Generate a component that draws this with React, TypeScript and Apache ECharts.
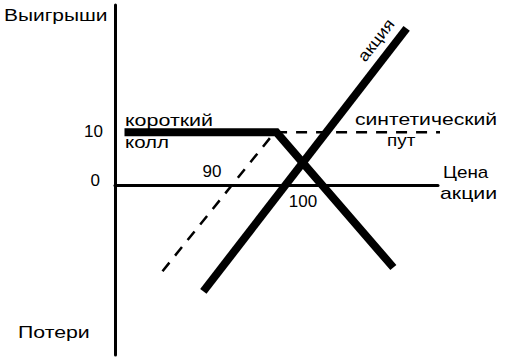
import React, { useEffect, useRef } from "react";
import * as echarts from "echarts";

// Payoff lines: [stock price, profit]
const shortCall: number[][] = [[81, 10], [97, 10], [109.3, -15.5]];
const stock: number[][] = [[89.3, -20], [110.7, 29.6]];
const syntheticPut: number[][] = [[85, -16.2], [96.8, 10], [117.2, 10]];

// Tick labels
const yTickValues = [10, 0];
const xTickValues = [90, 100];

const FONT = "'Liberation Sans', Arial, Helvetica, sans-serif";

function txt(text: string, x: number, y: number, sx: number, size = 16, align = "left", rotation = 0) {
  return {
    type: "text",
    x,
    y,
    scaleX: sx,
    rotation,
    silent: true,
    style: {
      text,
      fill: "#000",
      font: `${size}px ${FONT}`,
      textAlign: align,
      textVerticalAlign: "middle",
      align,
      verticalAlign: "middle",
    },
  };
}

export default function App() {
  const ref = useRef<HTMLDivElement>(null);
  useEffect(() => {
    if (!ref.current) return;
    const chart = echarts.init(ref.current, undefined, { renderer: "svg" });
    const yLabelOpts: Record<number, any> = {
      10: { position: "left", distance: 12, offset: [0, -1] },
      0: { position: "left", distance: 15, offset: [0, -5] },
    };
    const xLabelOpts: Record<number, any> = {
      90: { position: "top", distance: 5, offset: [2, 0] },
      100: { position: "bottom", distance: 8, offset: [-2, 0] },
    };
    const labelBase = {
      show: true,
      color: "#000",
      opacity: 1,
      fontSize: 17,
      fontFamily: FONT,
      textBorderWidth: 0,
    };
    chart.setOption({
      animation: false,
      backgroundColor: "#fff",
      grid: { left: 115, top: 5, width: 323, height: 350 },
      xAxis: {
        type: "value",
        min: 80,
        max: 114,
        axisLine: { show: true, onZero: true, lineStyle: { color: "#000", width: 3 } },
        axisTick: { show: false },
        axisLabel: { show: false },
        splitLine: { show: false },
      },
      yAxis: {
        type: "value",
        min: -32,
        max: 34,
        axisLine: { show: true, onZero: false, lineStyle: { color: "#000", width: 3 } },
        axisTick: { show: false },
        axisLabel: { show: false },
        splitLine: { show: false },
      },
      series: [
        {
          name: "синтетический пут",
          type: "line",
          data: syntheticPut,
          symbol: "none",
          clip: false,
          lineStyle: { color: "#000", width: 2.5, type: [11, 9] },
          z: 2,
        },
        {
          name: "короткий колл",
          type: "line",
          data: shortCall,
          symbol: "none",
          clip: false,
          lineStyle: { color: "#000", width: 8, join: "miter", cap: "butt" },
          z: 3,
        },
        {
          name: "акция",
          type: "line",
          data: stock,
          symbol: "none",
          clip: false,
          lineStyle: { color: "#000", width: 8, cap: "butt" },
          z: 3,
        },
        {
          name: "ticks",
          type: "scatter",
          symbolSize: 0,
          clip: false,
          z: 4,
          itemStyle: { color: "#000", opacity: 1 },
          data: [
            ...yTickValues.map((v) => ({
              value: [80, v],
              label: { ...labelBase, formatter: String(v), ...yLabelOpts[v] },
            })),
            ...xTickValues.map((v) => ({
              value: [v, 0],
              label: { ...labelBase, formatter: String(v), ...xLabelOpts[v] },
            })),
          ],
        },
      ],
      graphic: [
        txt("Выигрыши", 4, 15.5, 1.31),
        txt("Потери", 18, 332.5, 1.33),
        txt("короткий", 125, 121, 1.34),
        txt("колл", 125, 142.5, 1.28),
        txt("синтетический", 355, 119.5, 1.32),
        txt("пут", 387, 141, 1.18),
        txt("Цена", 443, 173, 1.18),
        txt("акции", 440, 193, 1.33),
        txt("акция", 376, 40, 1.15, 16, "center", 0.911),
      ],
    });
    return () => chart.dispose();
  }, []);
  return (
    <div
      ref={ref}
      style={{ position: "absolute", left: 0, top: 0, width: 526, height: 361, background: "#fff" }}
    />
  );
}
